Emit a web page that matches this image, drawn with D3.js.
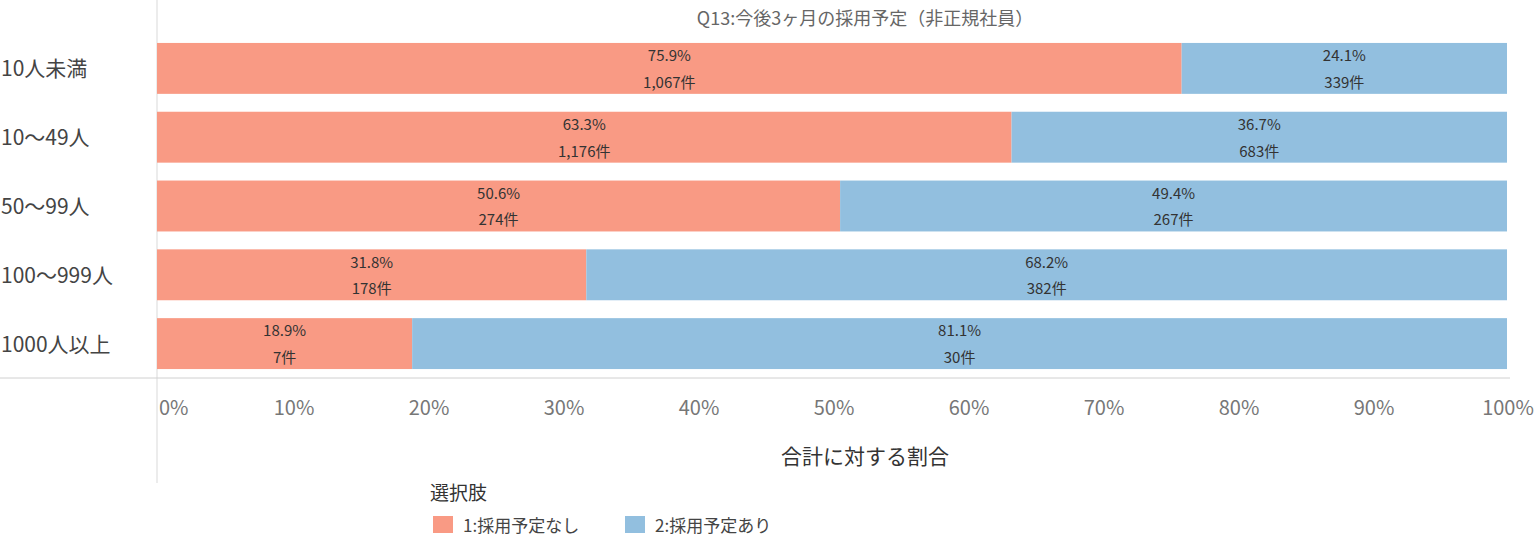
<!DOCTYPE html>
<html><head><meta charset="utf-8">
<script src="https://cdn.jsdelivr.net/npm/d3@7"></script>
<style>body{margin:0;background:#fff;font-family:"Noto Sans CJK JP","Noto Sans",sans-serif}</style>
</head><body><div id="chart"></div>
<script>
const categories = ["10人未満", "10～49人", "50～99人", "100～999人", "1000人以上"];
const pctNone = [75.9, 63.3, 50.6, 31.8, 18.9];
const pctPlan = [24.1, 36.7, 49.4, 68.2, 81.1];
const cntNone = ["1,067", "1,176", "274", "178", "7"];
const cntPlan = ["339", "683", "267", "382", "30"];
const ticks = [0, 10, 20, 30, 40, 50, 60, 70, 80, 90, 100];
const seriesNames = ["1:採用予定なし", "2:採用予定あり"];
const colors = ["#F99A84", "#92BFDF"];

const W = 1538, H = 539;
const svg = d3.select("#chart").append("svg").attr("width", W).attr("height", H);

const x = d3.scaleLinear().domain([0, 100]).range([157, 1507]);
const y = d3.scaleBand().domain(categories).range([34, 378]).paddingInner(0.26).paddingOuter(0.13);

// frame lines
svg.append("line").attr("x1", 157).attr("x2", 157).attr("y1", 0).attr("y2", 483).attr("stroke", "#d9d9d9");
svg.append("line").attr("x1", 0).attr("x2", 1510).attr("y1", 378).attr("y2", 378).attr("stroke", "#d0d0d0");

svg.append("text").attr("x", 865).attr("y", 25).attr("text-anchor", "middle")
  .attr("font-size", 18).attr("fill", "#666").text("Q13:今後3ヶ月の採用予定（非正規社員）");

categories.forEach((c, i) => {
  const y0 = y(c), bh = y.bandwidth();
  const segs = [
    {x0: 0, x1: pctNone[i], p: pctNone[i], n: cntNone[i], col: colors[0]},
    {x0: pctNone[i], x1: 100, p: pctPlan[i], n: cntPlan[i], col: colors[1]}
  ];
  segs.forEach(s => {
    svg.append("rect").attr("x", x(s.x0)).attr("y", y0).attr("width", x(s.x1) - x(s.x0))
      .attr("height", bh).attr("fill", s.col);
    const cx = (x(s.x0) + x(s.x1)) / 2;
    svg.append("text").attr("x", cx).attr("y", y0 + bh * 0.36).attr("text-anchor", "middle")
      .attr("font-size", 15).attr("fill", "#333").text(s.p.toFixed(1) + "%");
    svg.append("text").attr("x", cx).attr("y", y0 + bh * 0.88).attr("text-anchor", "middle")
      .attr("font-size", 15).attr("fill", "#333").text(s.n + "件");
  });
  svg.append("text").attr("x", 1).attr("y", y0 + bh / 2 + 8).attr("font-size", 21)
    .attr("fill", "#444").text(c);
});

ticks.forEach(t => {
  svg.append("text").attr("x", t === 100 ? x(t) + 1 : x(t) + 2).attr("y", 415)
    .attr("text-anchor", t === 0 ? "start" : "middle")
    .attr("font-size", 20).attr("fill", "#777").text(t + "%");
});

svg.append("text").attr("x", 865).attr("y", 464).attr("text-anchor", "middle")
  .attr("font-size", 21).attr("fill", "#333").text("合計に対する割合");

svg.append("text").attr("x", 430).attr("y", 500).attr("font-size", 19).attr("fill", "#333").text("選択肢");
const legX = [433, 625];
seriesNames.forEach((s, i) => {
  svg.append("rect").attr("x", legX[i]).attr("y", 516).attr("width", 20).attr("height", 17).attr("fill", colors[i]);
  svg.append("text").attr("x", legX[i] + 30).attr("y", 532).attr("font-size", 17).attr("fill", "#444").text(s);
});
</script></body></html>
